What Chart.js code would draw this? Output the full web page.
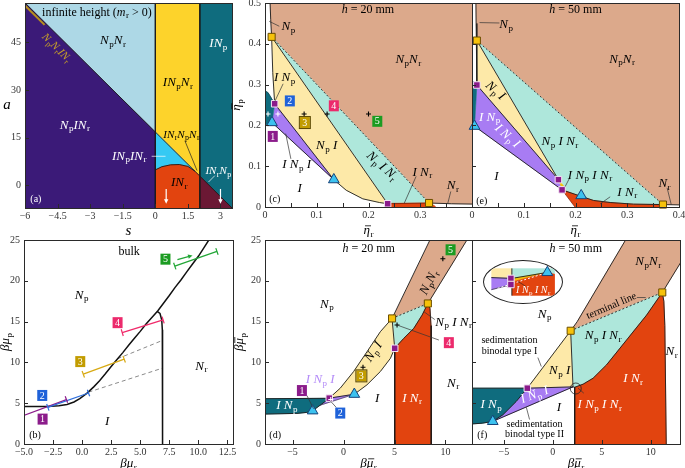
<!DOCTYPE html>
<html>
<head>
<meta charset="utf-8">
<title>Phase diagrams</title>
<script src="https://cdn.jsdelivr.net/npm/chart.js@4.4.1/dist/chart.umd.min.js"></script>
<style>
  body { margin: 0; background: #fff; }
  #wrap { position: relative; width: 685px; height: 468px; overflow: hidden; }
  #wrap canvas.full { position: absolute; left: -40px; top: -10px; }
  #inset { position: absolute; left: 483px; top: 260px; width: 78px; height: 42px; border: 1px solid #222; border-radius: 50%; overflow: hidden; background: #fff; }
</style>
</head>
<body>
<div id="wrap">
  <canvas class="full" id="pa" width="765" height="488"></canvas>
  <canvas class="full" id="pb" width="765" height="488"></canvas>
  <canvas class="full" id="pc" width="765" height="488"></canvas>
  <canvas class="full" id="pd" width="765" height="488"></canvas>
  <canvas class="full" id="pe" width="765" height="488"></canvas>
  <canvas class="full" id="pf" width="765" height="488"></canvas>
  <div id="inset"><canvas id="pin" width="78" height="42"></canvas></div>
</div>
<script>
const SERIF = '"Liberation Serif", "DejaVu Serif", serif';
const OX = 40, OY = 10;   // canvases are shifted by this much so labels can hang outside

// ---------- (a) infinite height: a vs s ----------
const aDiag   = [[-6, 57.43], [0, 16.75], [2.05, 2.85], [3.7, -8.34]];
const aCurve  = [[0, 4.8], [0.3, 5.8], [0.7, 6.4], [1.1, 6.5], [1.5, 5.9], [1.82, 4.41]];
const aNpNr   = [[-6, 58], [0, 58], [0, 16.75], [-6, 57.43]];
const aNpINr  = [[-6, 57.43], [0, 16.75], [0, -8], [-6, -8]];
const aINpNr  = [[0, 58], [2.05, 58], [2.05, 2.85], [0, 16.75]];
const aINpINr = [[0, 16.75], [1.82, 4.41], [1.5, 5.9], [1.1, 6.5], [0.7, 6.4], [0.3, 5.8], [0, 4.8]];
const aINr    = [[0, 4.8], [0.3, 5.8], [0.7, 6.4], [1.1, 6.5], [1.5, 5.9], [1.82, 4.41], [2.05, 2.85], [2.05, -8], [0, -8]];
const aINp    = [[2.05, 58], [3.7, 58], [3.7, -8.34], [2.05, 2.85]];
const aINrNp  = [[2.05, 2.85], [3.7, -8.34], [2.05, -8.34]];
const aStrip  = [[-6, 56.6], [-5.1, 50.5]];
const aXTicks = [-6, -4.5, -3, -1.5, 0, 1.5, 3];
const aYTicks = [0, 15, 30, 45];

// ---------- (b) bulk: beta mu_p vs beta mu_r ----------
const bBinodal = [[-5, 4.6], [-3, 4.6], [-2, 4.68], [-1.3, 4.85], [-0.7, 5.15], [-0.2, 5.55], [0.4, 6.2], [1, 7.0],
  [1.5, 7.75], [2, 8.6], [2.5, 9.5], [3, 10.35], [3.5, 11.2], [4, 12.1], [4.5, 12.95], [5, 13.8], [5.5, 14.7],
  [6, 15.5], [6.5, 16.3], [7, 17.25], [7.5, 18.2], [8, 19.2], [8.5, 20.1], [9, 21.1], [9.5, 22.05], [10, 23.0],
  [10.5, 24.1], [10.9, 25.0]];
const bNr      = [[6.45, 16.25], [6.7, 16.0], [6.85, 15.2], [6.9, 14], [6.92, 12], [6.92, 0]];
const bTieLow  = [[0.55, 6.35], [6.92, 9.3]];
const bTieHigh = [[3.05, 10.45], [6.92, 12.7]];
const bPath1 = [[-5.4, 3.3], [-1.35, 5.45]];
const bPath2 = [[-2.95, 4.5], [0.55, 6.25]];
const bPath3 = [[0.1, 8.55], [3.62, 10.4]];
const bPath4 = [[3.45, 13.65], [6.97, 15.2]];
const bPath5 = [[7.97, 21.8], [11.6, 23.6]];
const bDrift = [8.2, 22.6, 9.5, 23.1];
const bXTicks = [-5, -2.5, 0, 2.5, 5, 7.5, 10, 12.5];
const bYTicks = [0, 5, 10, 15, 20, 25];

// ---------- (c) h = 20 mm, packing fractions ----------
const cNpNr  = [[0.0096, 0.51], [0.011, 0.46], [0.0128, 0.417], [0.317, 0.0098], [0.36, 0.008], [0.41, 0.007], [0.41, 0.51]];
const cNpINr = [[0.0128, 0.417], [0.317, 0.0098], [0.237, 0.008]];
const cNpI   = [[0.0128, 0.417], [0.237, 0.008], [0.221, 0.011], [0.189, 0.02], [0.157, 0.041], [0.133, 0.067], [0.0187, 0.253], [0.015, 0.33]];
const cINpI  = [[0.0187, 0.253], [0.133, 0.067], [0.0135, 0.207]];
const cINp   = [[0, 0.285], [0.006, 0.28], [0.0187, 0.253], [0.0135, 0.207], [0, 0.2]];
const cINr   = [[0.237, 0.009], [0.317, 0.0098], [0.326, 0.004], [0.33, 0], [0.237, 0]];
const cGold  = [[0.0128, 0.417], [0.317, 0.0098]];
const cPurple = [[0.0187, 0.253], [0.237, 0.008]];
const cTri   = [[0.0135, 0.207], [0.133, 0.067]];
const cStateDark  = [[0.0756, 0.228], [0.12, 0.228], [0.2, 0.228]];
const cStateLight = [[0.0058, 0.228], [0.025, 0.228]];

// ---------- (e) h = 50 mm, packing fractions ----------
const eNpNr   = [[0.0075, 0.51], [0.008, 0.45], [0.0094, 0.408], [0.369, 0.006], [0.41, 0.005], [0.41, 0.51]];
const eNpINr  = [[0.0094, 0.408], [0.369, 0.006], [0.312, 0.007], [0.267, 0.011], [0.235, 0.016], [0.211, 0.026], [0.174, 0.042], [0.167, 0.067]];
const eNpI    = [[0.0094, 0.408], [0.0094, 0.299], [0.167, 0.067]];
const eINpI   = [[0.0094, 0.299], [0.167, 0.067], [0.174, 0.042], [0.0049, 0.198]];
const eINp    = [[0, 0.31], [0.0094, 0.299], [0.0049, 0.198], [0, 0.198]];
const eINr    = [[0.174, 0.042], [0.211, 0.026], [0.235, 0.016], [0.267, 0.011], [0.312, 0.007], [0.369, 0.006], [0.369, 0], [0.199, 0]];
const eINpINr = [[0.167, 0.067], [0.178, 0.05], [0.174, 0.042]];
const eGold   = [[0.0094, 0.408], [0.369, 0.006]];
const ePurple = [[0.0094, 0.299], [0.167, 0.067], [0.174, 0.042]];
const eTri    = [[0.0049, 0.198], [0.211, 0.028]];
const etaXTicks = [0, 0.1, 0.2, 0.3];
const etaXTicksE = [0, 0.1, 0.2, 0.3, 0.4];
const etaXMarks = [0, 0.05, 0.1, 0.15, 0.2, 0.25, 0.3, 0.35, 0.4];
const etaYTicks = [0, 0.1, 0.2, 0.3, 0.4, 0.5];

// ---------- (d) h = 20 mm, chemical potentials ----------
const dNpNr  = [[4.76, 15.39], [8.27, 17.22], [12.2, 25.2], [8.55, 25.2]];
const dNpINr = [[4.76, 15.39], [8.27, 17.22], [7.71, 15.8], [6.89, 14.17], [5.91, 12.95], [5.02, 11.73]];
const dINr   = [[5.02, -0.5], [5.02, 11.73], [5.91, 12.95], [6.89, 14.17], [7.71, 15.8], [8.27, 17.22], [8.48, 16.6], [8.58, 14.5], [8.6, -0.5]];
const dNpI   = [[-1.4, 5.62], [-0.32, 6.84], [0.99, 8.88], [2.3, 11.3], [3.61, 13.76], [4.76, 15.39], [5.02, 11.73], [4.6, 10.5], [3.61, 8.88], [2.3, 7.25], [1.06, 6.1]];
const dINpI  = [[-1.4, 5.62], [1.06, 6.1], [-2.3, 4.75]];
const dINp   = [[-8, 5.55], [-1.4, 5.6], [-2.3, 4.75], [-3.03, 4.07], [-3.6, 3.87], [-4.57, 3.75], [-8, 3.66]];
const dGold  = [[4.76, 15.39], [8.27, 17.22]];
const dPurple = [[-1.4, 5.62], [5.02, 11.73]];
const dTri   = [[-3.03, 4.07], [1.06, 6.1]];
const dStateDark  = [[1.91, 9.4], [5.25, 14.58], [9.74, 22.7]];
const dStateLight = [[-1.25, 5.45]];

// ---------- (f) h = 50 mm, chemical potentials ----------
const fNpNr  = [[1.83, 13.88], [11.19, 18.57], [13.1, 22.3], [13.1, 25.2], [7.54, 25.2], [2.5, 15.0]];
const fNpINr = [[1.83, 13.88], [11.19, 18.57], [9.59, 15.8], [7.54, 12.74], [5.49, 9.69], [4.12, 8.06], [3.1, 7.33], [2.3, 6.98], [2.07, 7.0]];
const fINr   = [[2.24, -0.5], [2.24, 6.95], [3.1, 7.33], [4.12, 8.06], [5.49, 9.69], [7.54, 12.74], [9.59, 15.8], [11.19, 18.57], [11.35, 17.5], [11.45, 14.5], [11.6, -0.5]];
const fNpI   = [[1.83, 13.88], [-2.6, 6.84], [2.07, 7.0]];
const fINpI  = [[-2.6, 6.84], [2.07, 7.0], [-6.13, 2.77], [-5.1, 3.58], [-3.74, 5.21]];
const fINp   = [[-8.5, 6.84], [-2.6, 6.84], [-3.74, 5.21], [-5.1, 3.58], [-6.13, 2.77], [-7.2, 2.55], [-8.5, 2.44]];
const fGold  = [[1.83, 13.88], [11.19, 18.57]];
const fPurple = [[-2.6, 6.84]];
const fTri   = [[-6.13, 2.77]];
const muXTicks = [-5, 0, 5, 10];
const muYTicks = [0, 5, 10, 15, 20, 25];

// ---------- inset of (f), local units ----------
const inNpI   = [[0, 1], [0.325, 1], [0.325, 0.63], [0, 0.66]];
const inINpI  = [[0, 0.66], [0.325, 0.63], [0.325, 0.41], [0, 0.22]];
const inNpINr = [[0.325, 1], [1, 1], [1, 0.78], [0.883, 0.846], [0.325, 0.63]];
const inGold  = [[0.325, 0.63], [0.883, 0.846], [0.325, 0.5]];
const inINr   = [[0.325, 0.5], [0.883, 0.846], [1, 0.78], [1, 0], [0.325, 0]];
const inPurple = [[0.31, 0.63], [0.31, 0.41]];
const inTri   = [[0.883, 0.846]];

const COL = {
  lblue: '#add8e6', dpurple: '#3b1a78', yellow: '#fdd32b', teal: '#0f6c7e', cyan: '#35c9f3',
  orange: '#e2440f', maroon: '#6b1834', brown: '#dca98b', lteal: '#aee7db', lyellow: '#fde9a8',
  lav: '#a87cf3', gold: '#f6c20b', psq: '#8a1a8b', tri: '#3cc2ef'
};
const BADGE = { 1: '#8b1c8b', 2: '#1f62d9', 3: '#c29c00', 4: '#ec2a6c', 5: '#1c9c22' };
const PATHCOL = ['#8b1c8b', '#2f6fdc', '#d8aa14', '#f02a6a', '#22a636'];

// text with _sub, ~ toggles italic (default italic), ! puts a bar over next char
function drawRich(ctx, str, x, y, o = {}) {
  const size = o.size || 12;
  const segs = [];
  let it = true;
  for (let i = 0; i < str.length; i++) {
    const c = str[i];
    if (c === '~') { it = !it; continue; }
    if (c === '_') { segs.push({ t: str[++i], sub: true }); continue; }
    if (c === '!') { segs.push({ t: str[++i], it, bar: true }); continue; }
    segs.push({ t: c, it });
  }
  const font = s => `${s.it ? 'italic ' : ''}${s.sub ? Math.round(size * 0.72) : size}px ${SERIF}`;
  let w = 0;
  segs.forEach((s, k) => {
    ctx.font = font(s);
    s.w = ctx.measureText(s.t).width + (s.it && segs[k + 1] && segs[k + 1].sub ? size * 0.04 : 0);
    w += s.w;
  });
  ctx.save();
  ctx.translate(x, y);
  if (o.rot) ctx.rotate(o.rot * Math.PI / 180);
  ctx.fillStyle = o.color || '#000';
  ctx.strokeStyle = o.color || '#000';
  ctx.textBaseline = 'middle';
  ctx.textAlign = 'left';
  let cx = -w / 2;
  segs.forEach(s => {
    ctx.font = font(s);
    ctx.fillText(s.t, cx, s.sub ? size * 0.28 : 0);
    if (s.bar) {
      ctx.lineWidth = 0.8;
      ctx.beginPath(); ctx.moveTo(cx + 1.5, -size * 0.4); ctx.lineTo(cx + s.w + 0.5, -size * 0.4); ctx.stroke();
    }
    cx += s.w;
  });
  ctx.restore();
}

function arrow(ctx, x1, y1, x2, y2, c) {
  const a = Math.atan2(y2 - y1, x2 - x1), h = 5;
  ctx.strokeStyle = c; ctx.fillStyle = c; ctx.lineWidth = 1.2;
  ctx.beginPath(); ctx.moveTo(x1, y1); ctx.lineTo(x2 - h * 0.7 * Math.cos(a), y2 - h * 0.7 * Math.sin(a)); ctx.stroke();
  ctx.beginPath(); ctx.moveTo(x2, y2);
  ctx.lineTo(x2 - h * Math.cos(a - 0.45), y2 - h * Math.sin(a - 0.45));
  ctx.lineTo(x2 - h * Math.cos(a + 0.45), y2 - h * Math.sin(a + 0.45));
  ctx.closePath(); ctx.fill();
}

const P = d => d.map(([x, y]) => ({ x, y }));
const area = (d, c) => ({ data: P(d), backgroundColor: c, borderColor: c, borderWidth: 0.6, fill: 'shape', pointRadius: 0, tension: 0 });
const edge = (d, c = '#1b1b1b', w = 0.9, dash = []) => ({ data: P(d), borderColor: c, backgroundColor: c, borderWidth: w, borderDash: dash, fill: false, pointRadius: 0, tension: 0 });
const dots = (d, style, fill, line, r, bw = 1) => ({ data: P(d), showLine: false, pointStyle: style, pointRadius: r, backgroundColor: fill, borderColor: line, borderWidth: bw, clip: false });
const goldSq = d => dots(d, 'rect', COL.gold, '#6b4e00', 5);
const purpSq = d => dots(d, 'rect', COL.psq, '#f4e6f4', 4.6);
const triMk  = d => dots(d, 'triangle', COL.tri, '#16437a', 6.2);

function deco(p) {
  return {
    id: 'deco',
    afterDatasetsDraw(chart) {
      const { ctx, chartArea: A } = chart;
      const X = v => chart.scales.x.getPixelForValue(v);
      const Y = v => chart.scales.y.getPixelForValue(v);
      ctx.save();
      ctx.beginPath(); ctx.rect(A.left, A.top, A.right - A.left, A.bottom - A.top); ctx.clip();
      (p.leaders || []).forEach(([x1, y1, x2, y2, c]) => {
        ctx.strokeStyle = c || '#333'; ctx.lineWidth = 0.7;
        ctx.beginPath(); ctx.moveTo(X(x1), Y(y1)); ctx.lineTo(X(x2), Y(y2)); ctx.stroke();
      });
      (p.caps || []).forEach(([seg, c]) => {
        const a = Math.atan2(Y(seg[1][1]) - Y(seg[0][1]), X(seg[1][0]) - X(seg[0][0]));
        const nx = -Math.sin(a) * 3.5, ny = Math.cos(a) * 3.5;
        ctx.strokeStyle = c; ctx.lineWidth = 1.2;
        seg.forEach(([u, v]) => { ctx.beginPath(); ctx.moveTo(X(u) - nx, Y(v) - ny); ctx.lineTo(X(u) + nx, Y(v) + ny); ctx.stroke(); });
      });
      (p.arrows || []).forEach(([x1, y1, x2, y2, c]) => arrow(ctx, X(x1), Y(y1), X(x2), Y(y2), c));
      (p.rings || []).forEach(([u, v]) => {
        ctx.strokeStyle = '#222'; ctx.lineWidth = 0.8;
        ctx.beginPath(); ctx.arc(X(u), Y(v), 5.5, 0, 2 * Math.PI); ctx.stroke();
      });
      ctx.restore();
      (p.badges || []).forEach(([u, v, n, framed]) => {
        const bx = X(u), by = Y(v);
        ctx.fillStyle = BADGE[n]; ctx.fillRect(bx - 5, by - 5.5, 10, 11);
        if (framed) { ctx.strokeStyle = '#5a4700'; ctx.lineWidth = 1; ctx.strokeRect(bx - 5.5, by - 6, 11, 12); }
        drawRich(ctx, '~' + n, bx, by + 0.5, { color: '#fff', size: 10 });
      });
      (p.labels || []).forEach(([u, v, t, c, rot, size]) => drawRich(ctx, t, X(u), Y(v), { color: c, rot, size: size || 13 }));
      ctx.save();
      ctx.strokeStyle = '#2a2a2a'; ctx.lineWidth = 1;
      ctx.strokeRect(A.left + 0.5, A.top + 0.5, A.right - A.left, A.bottom - A.top);
      ctx.beginPath();
      p.xMarks.forEach(v => { const px = Math.round(X(v)) + 0.5; ctx.moveTo(px, A.bottom); ctx.lineTo(px, A.bottom - 4); });
      p.yMarks.forEach(v => { const py = Math.round(Y(v)) + 0.5; ctx.moveTo(A.left, py); ctx.lineTo(A.left + 4, py); });
      ctx.stroke();
      ctx.restore();
      if (p.xTitle) drawRich(ctx, p.xTitle[0], (A.left + A.right) / 2, A.bottom + p.xTitle[1], { size: p.xTitle[2] });
      if (p.yTitle) drawRich(ctx, p.yTitle[0], A.left - p.yTitle[1], (A.top + A.bottom) / 2, { size: p.yTitle[2], rot: p.yTitle[3] });
    }
  };
}

const minus = s => s.replace('-', '\u2212');
const fmtPlain = v => minus(String(v));
const fmtOne = v => minus(v.toFixed(1));

function makePanel(id, box, xr, yr, xt, yt, fmtX, fmtY, sets, p) {
  const YW = 30, XH = 20;
  const tickFont = { family: SERIF, size: 10 };
  return new Chart(document.getElementById(id), {
    type: 'line',
    data: { datasets: sets.slice().reverse() },
    options: {
      responsive: false, animation: false, devicePixelRatio: 1,
      layout: { padding: { left: box[0] + OX - YW, top: box[1] + OY, right: 685 + OX - box[2], bottom: 468 + OY - box[3] - XH } },
      plugins: { legend: { display: false }, tooltip: { enabled: false }, colors: { enabled: false } },
      scales: {
        x: {
          type: 'linear', min: xr[0], max: xr[1],
          grid: { display: false, drawTicks: false }, border: { display: false },
          afterBuildTicks: s => { s.ticks = xt.map(v => ({ value: v })); },
          afterFit: s => { s.height = XH; s.paddingLeft = 0; s.paddingRight = 0; },
          ticks: { display: !p.noXLabels, autoSkip: false, maxRotation: 0, minRotation: 0, padding: 2, color: '#333', font: tickFont, callback: fmtX }
        },
        y: {
          type: 'linear', min: yr[0], max: yr[1],
          grid: { display: false, drawTicks: false }, border: { display: false },
          afterBuildTicks: s => { s.ticks = yt.map(v => ({ value: v })); },
          afterFit: s => { s.width = YW; s.paddingTop = 0; s.paddingBottom = 0; },
          ticks: { display: !p.noYLabels, autoSkip: false, padding: 4, color: '#333', font: tickFont, callback: fmtY }
        }
      }
    },
    plugins: [deco(p)]
  });
}

// (a)
makePanel('pa', [25, 3, 232, 208], [-6, 3.53], [-7.2, 57.4], aXTicks, aYTicks, fmtPlain, fmtPlain, [
  area(aNpNr, COL.lblue), area(aNpINr, COL.dpurple), area(aINpNr, COL.yellow), area(aINpINr, COL.cyan),
  area(aINr, COL.orange), area(aINp, COL.teal), area(aINrNp, COL.maroon),
  edge(aStrip, '#b8901a', 2),
  edge(aDiag), edge(aCurve), edge([[0, 58], [0, -8]]), edge([[2.05, 58], [2.05, -8]])
], {
  xMarks: aXTicks, yMarks: aYTicks, xTitle: ['s', 23, 15], yTitle: ['a', 18, 15, 0],
  labels: [
    [-2.69, 54.4, '~infinite height (~m~_r > 0)', '#000', 0, 12],
    [-1.95, 45.5, 'N_pN_r'], [2.9, 44.6, 'IN_p', '#fff'], [1.04, 32.3, 'IN_pN_r'],
    [-3.7, 18.8, 'N_pIN_r', '#fff'], [1.2, 15.9, 'IN_rN_pN_r', '#000', 0, 11],
    [-1.2, 9.1, 'IN_pIN_r', '#fff'], [1.1, 0.7, 'IN_r'], [2.9, 4.3, 'IN_rN_p', '#fff', 0, 11],
    [-5.5, -4.6, '~(a)', '#fff', 0, 10], [-4.55, 43.2, 'N_pN_rIN_r', '#c9a227', 45, 11]
  ],
  leaders: [[-0.17, 9.1, 0.47, 9.1, '#fff'], [1.36, 14.0, 1.92, 4.6, '#222'], [2.74, 3.0, 2.45, 1.0, '#fff']],
  arrows: [[0.5, -1.2, 0.5, -5.9, '#fff'], [3.0, -1.2, 3.0, -5.9, '#fff']]
});

// (b)
makePanel('pb', [24, 240, 233, 444], [-5, 12.98], [0, 25], bXTicks, bYTicks, fmtOne, fmtPlain, [
  edge(bTieLow, '#8a8a8a', 1, [4, 3]), edge(bTieHigh, '#8a8a8a', 1, [4, 3]),
  edge(bBinodal, '#111', 1.5), edge(bNr, '#111', 1.5),
  edge(bPath1, PATHCOL[0], 1.3), edge(bPath2, PATHCOL[1], 1.3), edge(bPath3, PATHCOL[2], 1.3),
  edge(bPath4, PATHCOL[3], 1.3), edge(bPath5, PATHCOL[4], 1.3)
], {
  xMarks: bXTicks, yMarks: bYTicks, xTitle: ['βμ_r', 20, 13], yTitle: ['βμ_p', 18, 13, -90],
  caps: [[bPath1, PATHCOL[0]], [bPath2, PATHCOL[1]], [bPath3, PATHCOL[2]], [bPath4, PATHCOL[3]], [bPath5, PATHCOL[4]]],
  arrows: [[...bDrift, PATHCOL[4]]],
  badges: [[-3.4, 3.05, 1], [-3.43, 5.95, 2], [-0.16, 10.1, 3], [3.05, 14.87, 4], [7.17, 22.65, 5]],
  labels: [[4.05, 23.6, '~bulk', '#000', 0, 12], [-0.05, 18.2, 'N_p'], [10.26, 9.5, 'N_r'], [2.16, 2.77, 'I'], [-4.05, 1.0, '~(b)', '#000', 0, 10]]
});

// (c)
makePanel('pc', [265, 3, 472, 207], [0, 0.4], [0, 0.5], etaXTicks, etaYTicks, fmtPlain, fmtPlain, [
  area(cNpNr, COL.brown), area(cNpINr, COL.lteal), area(cNpI, COL.lyellow), area(cINpI, COL.lav),
  area(cINp, COL.teal), area(cINr, COL.orange),
  edge([[0.0096, 0.51], [0.011, 0.46], [0.0128, 0.417], [0.015, 0.33], [0.0187, 0.253]]),
  edge([[0.0128, 0.417], [0.237, 0.008]]), edge([[0.0187, 0.253], [0.133, 0.067]]),
  edge([[0.0135, 0.207], [0.133, 0.067], [0.157, 0.041], [0.189, 0.02], [0.221, 0.011], [0.237, 0.008]]),
  edge([[0.317, 0.0098], [0.36, 0.008], [0.41, 0.007]]), edge([[0, 0.285], [0.006, 0.28], [0.0187, 0.253]], '#0a3f4a', 0.7),
  edge([[0.237, 0.008], [0.317, 0.0098]], '#7a1a05', 0.8),
  edge([[0.0128, 0.417], [0.317, 0.0098]], '#222', 0.9, [2, 2]),
  goldSq(cGold), purpSq(cPurple), triMk(cTri),
  dots(cStateDark, 'cross', '#000', '#000', 2.5, 1.1), dots(cStateLight, 'cross', '#fff', '#fff', 2.5, 1.1)
], {
  xMarks: etaXMarks, yMarks: etaYTicks, xTitle: ['!η_r', 24, 13], yTitle: ['!η_p', 28, 13, -90],
  badges: [[0.015, 0.173, 1], [0.048, 0.26, 2], [0.077, 0.207, 3, true], [0.133, 0.248, 4], [0.217, 0.21, 5]],
  labels: [
    [0.199, 0.484, 'h~ = 20 mm', '#000', 0, 12], [0.045, 0.441, 'N_p'], [0.277, 0.361, 'N_pN_r'],
    [0.038, 0.316, 'I N_p'], [0.119, 0.15, 'N_p I'], [0.061, 0.104, 'I N_p I'], [0.067, 0.044, 'I'],
    [0.226, 0.1, 'N_p I N_r', '#000', 42], [0.304, 0.085, 'I N_r'], [0.363, 0.052, 'N_r'], [0.019, 0.018, '~(c)', '#000', 0, 10]
  ],
  leaders: [[0.0083, 0.455, 0.0276, 0.443], [0.035, 0.302, 0.019, 0.259], [0.05, 0.118, 0.04, 0.18],
    [0.292, 0.075, 0.269, 0.009], [0.359, 0.038, 0.353, 0.008]]
});

// (e)
makePanel('pe', [472, 3, 679, 207], [0, 0.4], [0, 0.5], etaXTicksE, etaYTicks, fmtPlain, fmtPlain, [
  area(eNpNr, COL.brown), area(eNpINr, COL.lteal), area(eNpI, COL.lyellow), area(eINpI, COL.lav),
  area(eINp, COL.teal), area(eINr, COL.orange), area(eINpINr, COL.gold),
  edge([[0.0075, 0.51], [0.008, 0.45], [0.0094, 0.408], [0.0094, 0.299]]),
  edge([[0.0094, 0.408], [0.167, 0.067]]), edge([[0.0094, 0.299], [0.167, 0.067]]),
  edge([[0.0049, 0.198], [0.174, 0.042], [0.211, 0.026], [0.235, 0.016], [0.267, 0.011], [0.312, 0.007], [0.369, 0.006], [0.41, 0.005]]),
  edge([[0.174, 0.042], [0.199, 0]], '#7a1a05', 0.7),
  edge([[0.0094, 0.408], [0.369, 0.006]], '#222', 0.9, [2, 2]),
  goldSq(eGold), purpSq(ePurple), triMk(eTri)
], {
  noYLabels: true, xMarks: etaXMarks, yMarks: etaYTicks, xTitle: ['!η_r', 24, 13],
  labels: [
    [0.2, 0.484, 'h~ = 50 mm', '#000', 0, 12], [0.066, 0.446, 'N_p'], [0.29, 0.362, 'N_pN_r'],
    [0.045, 0.285, 'N_p I', '#000', 42], [0.034, 0.22, 'I N_p', '#fff'], [0.068, 0.174, 'I N_p I', '#fff', 42],
    [0.17, 0.16, 'N_p I N_r'], [0.047, 0.074, 'I'], [0.228, 0.078, 'I N_p I N_r'], [0.3, 0.036, 'I N_r'],
    [0.372, 0.057, 'N_r'], [0.019, 0.014, '~(e)', '#000', 0, 10]
  ],
  leaders: [[0.0146, 0.452, 0.053, 0.451], [0.189, 0.072, 0.18, 0.05], [0.267, 0.025, 0.248, 0.008], [0.377, 0.047, 0.385, 0.006]]
});

// (d)
makePanel('pd', [265, 240, 472, 444], [-7.7, 12.6], [0, 25], muXTicks, muYTicks, fmtPlain, fmtPlain, [
  area(dNpNr, COL.brown), area(dNpINr, COL.lteal), area(dINr, COL.orange), area(dNpI, COL.lyellow),
  area(dINpI, COL.lav), area(dINp, COL.teal),
  edge([[-8, 5.55], [-1.4, 5.6]]),
  edge([[-1.4, 5.62], [-0.32, 6.84], [0.99, 8.88], [2.3, 11.3], [3.61, 13.76], [4.76, 15.39], [8.55, 25.2]]),
  edge([[-1.4, 5.62], [1.06, 6.1], [2.3, 7.25], [3.61, 8.88], [4.6, 10.5], [5.02, 11.73]]),
  edge([[4.76, 15.39], [5.02, 11.73], [5.02, -0.5]]),
  edge([[5.02, 11.73], [5.91, 12.95], [6.89, 14.17], [7.71, 15.8], [8.27, 17.22], [12.2, 25.2]]),
  edge([[8.27, 17.22], [8.48, 16.6], [8.58, 14.5], [8.6, -0.5]]),
  edge([[-8, 3.66], [-4.57, 3.75], [-3.6, 3.87], [-3.03, 4.07], [-2.3, 4.75], [-1.4, 5.6]]),
  edge([[-2.3, 4.75], [1.06, 6.1]], '#333', 0.6),
  edge([[4.76, 15.39], [8.27, 17.22]], '#222', 0.9, [2, 2]),
  goldSq(dGold), purpSq(dPurple), triMk(dTri),
  dots(dStateDark, 'cross', '#000', '#000', 2.5, 1.1), dots(dStateLight, 'cross', '#fff', '#fff', 2.5, 1.1)
], {
  xMarks: muXTicks, yMarks: muYTicks, xTitle: ['β!μ_r', 20, 13], yTitle: ['β!μ_p', 25, 13, -90],
  badges: [[-4.08, 6.55, 1], [-0.32, 3.79, 2], [1.75, 8.35, 3, true], [10.33, 12.42, 4], [10.5, 23.8, 5]],
  labels: [
    [2.47, 23.9, 'h~ = 20 mm', '#000', 0, 12], [-1.63, 17.1, 'N_p'], [8.4, 19.8, 'N_pN_r', '#000', -63],
    [10.8, 14.9, 'N_p I N_r'], [2.96, 11.3, 'N_p I', '#000', -55], [-2.28, 7.86, 'I N_p I', '#b48cf8'],
    [3.29, 5.6, 'I'], [6.73, 5.6, 'I N_r', '#fff'], [10.75, 7.45, 'N_r'], [-5.56, 4.68, 'I N_p', '#fff'],
    [-6.7, 1.1, '~(d)', '#000', 0, 10]
  ],
  leaders: [[-3.59, 5.94, -2.94, 4.32], [-0.71, 4.48, -1.3, 5.29], [9.35, 12.74, 5.25, 14.58], [8.95, 15.25, 7.9, 16.2]]
});

// (f)
makePanel('pf', [472, 240, 680, 444], [-8.25, 13.0], [0, 25], muXTicks, muYTicks, fmtPlain, fmtPlain, [
  area(fNpNr, COL.brown), area(fNpINr, COL.lteal), area(fINr, COL.orange), area(fNpI, COL.lyellow),
  area(fINpI, COL.lav), area(fINp, COL.teal),
  edge([[-8.5, 6.84], [-2.6, 6.84], [2.07, 7.0]]),
  edge([[-2.6, 6.84], [1.83, 13.88], [2.5, 15.0], [7.54, 25.2]]),
  edge([[1.83, 13.88], [2.07, 7.0], [2.24, 6.95], [2.24, -0.5]]),
  edge([[2.24, 6.95], [3.1, 7.33], [4.12, 8.06], [5.49, 9.69], [7.54, 12.74], [9.59, 15.8], [11.19, 18.57], [13.1, 22.3]]),
  edge([[11.19, 18.57], [11.35, 17.5], [11.45, 14.5], [11.6, -0.5]]),
  edge([[-2.6, 6.84], [-3.74, 5.21], [-5.1, 3.58], [-6.13, 2.77], [-7.2, 2.55], [-8.5, 2.44]]),
  edge([[-6.13, 2.77], [2.07, 7.0]]),
  edge([[1.83, 13.88], [11.19, 18.57]], '#222', 0.9, [2, 2]),
  goldSq(fGold), purpSq(fPurple), triMk(fTri)
], {
  noYLabels: true, xMarks: muXTicks, yMarks: muYTicks, xTitle: ['β!μ_r', 20, 13],
  rings: [[2.35, 6.8]],
  labels: [
    [2.35, 23.9, 'h~ = 50 mm', '#000', 0, 12], [9.76, 22.3, 'N_pN_r'], [6.0, 16.9, '~terminal line', '#000', -23, 10.5],
    [-0.83, 15.88, 'N_p'], [-4.42, 12.74, '~sedimentation', '#000', 0, 10], [-4.42, 11.32, '~binodal type I', '#000', 0, 10],
    [5.15, 13.23, 'N_p I N_r'], [0.7, 8.96, 'N_p I'], [8.22, 7.98, 'I N_r', '#fff'], [12.15, 11.32, 'N_r'],
    [-6.3, 4.8, 'I N_p', '#fff'], [-1.86, 6.0, 'I N_p I', '#fff', -20], [0.64, 4.48, 'I'], [4.8, 4.8, 'I N_p I N_r', '#fff'],
    [-1.86, 2.36, '~sedimentation', '#000', 0, 10], [-1.86, 1.14, '~binodal type II', '#000', 0, 10], [-7.2, 1.06, '~(f)', '#000', 0, 10]
  ],
  leaders: [[-1.52, 10.59, -1.17, 9.49], [3.17, 6.23, 2.58, 6.84], [-2.37, 3.0, -2.7, 4.5], [8.6, 17.95, 9.5, 17.95]]
});

// inset of (f)
new Chart(document.getElementById('pin'), {
  type: 'line',
  data: { datasets: [
    area(inNpI, COL.lyellow), area(inINpI, COL.lav), area(inNpINr, COL.lteal), area(inGold, COL.gold), area(inINr, COL.orange),
    edge([[0.325, 0], [0.325, 1]]), edge([[0.325, 0.63], [0.883, 0.846]]), edge([[0, 0.66], [0.325, 0.63]]),
    edge([[0, 0.22], [0.325, 0.41]], '#333', 0.7), edge([[0.1, 0.27], [0.883, 0.846]], '#fff', 1, [2, 2]),
    purpSq(inPurple), triMk(inTri)
  ].reverse() },
  options: {
    responsive: false, animation: false, devicePixelRatio: 1, layout: { padding: 0 },
    plugins: { legend: { display: false }, tooltip: { enabled: false }, colors: { enabled: false } },
    scales: { x: { type: 'linear', display: false, min: 0, max: 1 }, y: { type: 'linear', display: false, min: 0, max: 1 } }
  },
  plugins: [{
    id: 'insetText',
    afterDatasetsDraw(chart) {
      const { ctx } = chart, X = v => chart.scales.x.getPixelForValue(v), Y = v => chart.scales.y.getPixelForValue(v);
      ctx.strokeStyle = '#222'; ctx.lineWidth = 0.6;
      ctx.beginPath(); ctx.moveTo(X(0.42), Y(0.52)); ctx.lineTo(X(0.54), Y(0.35)); ctx.stroke();
      drawRich(ctx, 'I N_p I N_r', X(0.66), Y(0.2), { color: '#fff', size: 10 });
    }
  }]
});
</script>
</body>
</html>
